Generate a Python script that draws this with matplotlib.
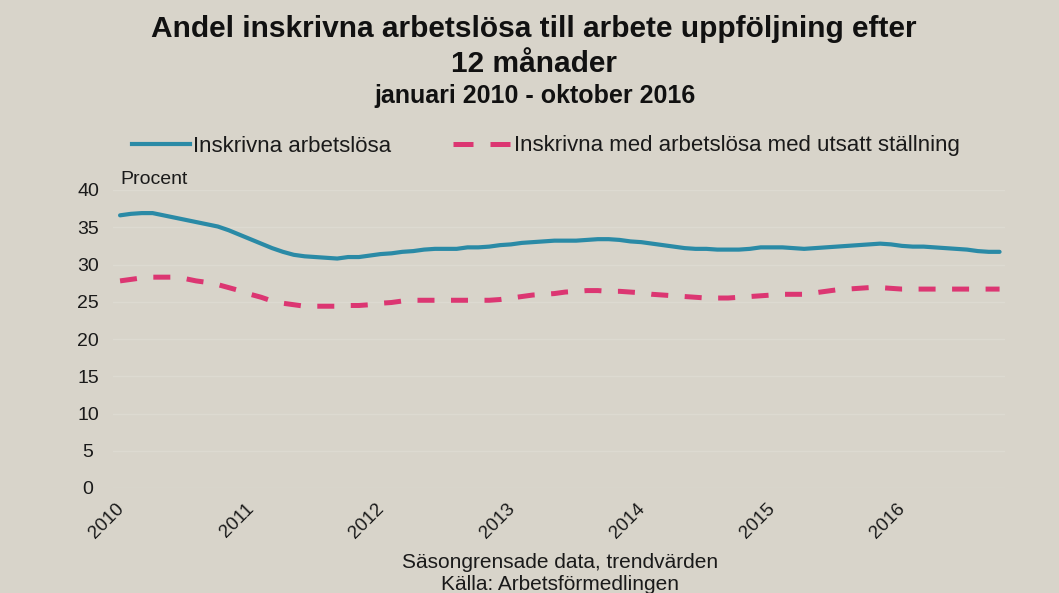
import numpy as np
import matplotlib
matplotlib.use("Agg")
import matplotlib.pyplot as plt
import matplotlib.transforms as mtransforms
from matplotlib.lines import Line2D

plt.rcParams['font.family'] = ['Liberation Sans', 'DejaVu Sans']

# -------------------------------
# Data (monthly, jan 2010 - okt 2016)
# -------------------------------
years = ["2010", "2011", "2012", "2013", "2014", "2015", "2016"]

inskrivna = [
    36.6, 36.8, 36.9, 36.9, 36.6, 36.3, 36.0, 35.7, 35.4, 35.1, 34.6, 34.0,  # 2010
    33.4, 32.8, 32.2, 31.7, 31.3, 31.1, 31.0, 30.9, 30.8, 31.0, 31.0, 31.2,  # 2011
    31.4, 31.5, 31.7, 31.8, 32.0, 32.1, 32.1, 32.1, 32.3, 32.3, 32.4, 32.6,  # 2012
    32.7, 32.9, 33.0, 33.1, 33.2, 33.2, 33.2, 33.3, 33.4, 33.4, 33.3, 33.1,  # 2013
    33.0, 32.8, 32.6, 32.4, 32.2, 32.1, 32.1, 32.0, 32.0, 32.0, 32.1, 32.3,  # 2014
    32.3, 32.3, 32.2, 32.1, 32.2, 32.3, 32.4, 32.5, 32.6, 32.7, 32.8, 32.7,  # 2015
    32.5, 32.4, 32.4, 32.3, 32.2, 32.1, 32.0, 31.8, 31.7, 31.7,              # 2016
]

utsatt = [
    27.8, 28.0, 28.2, 28.3, 28.3, 28.3, 28.1, 27.8, 27.6, 27.3, 26.9, 26.5,  # 2010
    26.0, 25.6, 25.1, 24.8, 24.6, 24.4, 24.4, 24.4, 24.4, 24.5, 24.5, 24.6,  # 2011
    24.8, 24.9, 25.1, 25.2, 25.2, 25.2, 25.2, 25.2, 25.2, 25.2, 25.2, 25.3,  # 2012
    25.5, 25.7, 25.9, 26.0, 26.1, 26.3, 26.4, 26.5, 26.5, 26.4, 26.4, 26.3,  # 2013
    26.2, 26.0, 25.9, 25.8, 25.7, 25.6, 25.5, 25.5, 25.5, 25.6, 25.7, 25.8,  # 2014
    25.9, 26.0, 26.0, 26.0, 26.2, 26.4, 26.6, 26.7, 26.8, 26.9, 26.9, 26.8,  # 2015
    26.7, 26.7, 26.7, 26.7, 26.7, 26.7, 26.7, 26.7, 26.7, 26.7,              # 2016
]

months = np.arange(len(inskrivna))

# -------------------------------
# Style
# -------------------------------
BG = "#d8d4ca"
GRID = "#dddad1"
BLUE = "#2a8aa6"
PINK = "#dc3672"
TXT = "#1a1a1a"

fig = plt.figure(figsize=(10.59, 5.93), dpi=100, facecolor=BG)
ax = fig.add_axes([113 / 1059, 105 / 593, 892 / 1059, 298 / 593], facecolor=BG)

ax.plot(months, inskrivna, color=BLUE, lw=3.0, solid_capstyle="round")
ax.plot(months, utsatt, color=PINK, lw=3.6, linestyle=(0, (3.4, 3.3)))

ax.set_xlim(-0.65, 81.5)
ax.set_ylim(0, 40)
ax.set_yticks(np.arange(0, 41, 5))
ax.yaxis.grid(True, color=GRID, lw=1.0)
ax.set_axisbelow(True)
for s in ax.spines.values():
    s.set_visible(False)

ax.tick_params(axis="y", length=0, pad=18, labelsize=14, labelcolor=TXT)
for lbl in ax.get_yticklabels():
    lbl.set_horizontalalignment("center")

ax.set_xticks(np.arange(0, len(years) * 12, 12))
ax.set_xticklabels(years, rotation=45, ha="right", va="top", rotation_mode="anchor")
ax.tick_params(axis="x", length=0, pad=9, labelsize=13.5, labelcolor=TXT)
shift = mtransforms.ScaledTranslation(-5 / 100, 0, fig.dpi_scale_trans)
for lbl in ax.get_xticklabels():
    lbl.set_transform(lbl.get_transform() + shift)

# -------------------------------
# Texts
# -------------------------------
fig.text(534 / 1059, 1 - 29 / 593,
         "Andel inskrivna arbetslösa till arbete uppföljning efter",
         ha="center", va="center", fontsize=21.5, fontweight="bold", color="#111111")
fig.text(534 / 1059, 1 - 64 / 593, "12 månader",
         ha="center", va="center", fontsize=21.5, fontweight="bold", color="#111111")
fig.text(535 / 1059, 1 - 96 / 593, "januari 2010 - oktober 2016",
         ha="center", va="center", fontsize=18, fontweight="bold", color="#111111")
fig.text(120 / 1059, 1 - 180 / 593, "Procent", ha="left", va="center",
         fontsize=14, color=TXT)
fig.text(560 / 1059, 1 - 563 / 593, "Säsongrensade data, trendvärden",
         ha="center", va="center", fontsize=15, color=TXT)
fig.text(560 / 1059, 1 - 585 / 593, "Källa: Arbetsförmedlingen",
         ha="center", va="center", fontsize=15, color=TXT)

handles = [
    Line2D([], [], color=BLUE, lw=3.0),
    Line2D([], [], color=PINK, lw=3.6, linestyle=(0, (4.0, 3.4))),
]
fig.legend(handles, ["Inskrivna arbetslösa",
                     "Inskrivna med arbetslösa med utsatt ställning"],
           loc="center", bbox_to_anchor=(546 / 1059, 1 - 146 / 593), ncol=2,
           frameon=False, fontsize=16, handlelength=2.6, handletextpad=0.15,
           columnspacing=2.8, labelcolor=TXT)

fig.savefig("out.png", dpi=100, facecolor=BG)
